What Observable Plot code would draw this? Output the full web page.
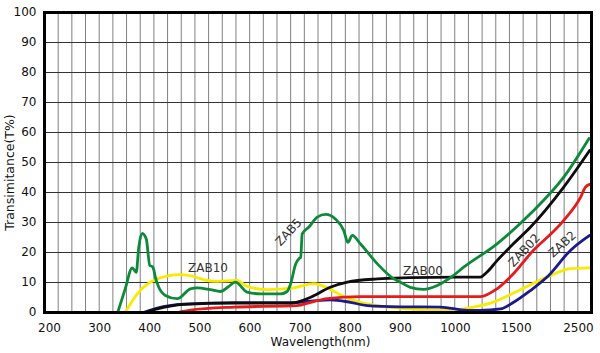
<!DOCTYPE html>
<html><head><meta charset="utf-8">
<script src="https://cdn.jsdelivr.net/npm/d3@7"></script>
<script src="https://cdn.jsdelivr.net/npm/@observablehq/plot@0.6"></script>
<style>
body{margin:0;background:#fff;}
#chart{width:600px;height:353px;}
#chart svg{font-family:"DejaVu Sans",Arial,sans-serif;}
</style>
</head><body><div id="chart"></div>
<script>
// Tick labels
const xTickValues = [200, 300, 400, 500, 600, 700, 800, 900, 1000, 1500, 2500];
const yTickValues = [0, 10, 20, 30, 40, 50, 60, 70, 80, 90, 100];

// ZAB5 (green)
const zab5Wl = [336, 351, 365, 373, 378, 385, 393, 400, 405, 408, 411, 418, 431, 455, 481, 495, 521, 541, 556, 571, 594, 621, 661, 674, 681, 691, 698, 701, 704, 717, 734, 751, 770, 787, 795, 804, 820, 854, 887, 900, 918, 942, 967, 991, 1068, 1342, 1726, 2263, 2670];
const zab5T  = [0, 7.9, 14.9, 13.4, 21.8, 26.4, 24.5, 15.7, 15.3, 14.2, 11.8, 8.4, 5.7, 4.6, 7.9, 8.2, 7.6, 7, 8.5, 10.1, 6.8, 6.2, 6.2, 7, 9.6, 16.2, 18, 18.4, 26.2, 28.4, 31.8, 32.7, 31.2, 27.3, 23.4, 25.7, 22.9, 16.2, 11.2, 10.1, 8.4, 7.7, 9, 11.6, 15.1, 22.9, 32.9, 45.1, 58];

// ZAB10 (yellow)
const zab10Wl = [351, 375, 415, 461, 488, 508, 534, 574, 594, 634, 687, 727, 754, 787, 820, 887, 946, 991, 1123, 1205, 1287, 1478, 1995, 2371, 2670];
const zab10T  = [0, 6.2, 11.2, 12.6, 12, 10.9, 10.4, 10.7, 8.7, 7.6, 8.2, 9.6, 8.2, 5.3, 3.4, 1.6, 0.9, 0.7, 1.6, 2.3, 3.1, 6.5, 11.8, 14.6, 14.9];

// ZAB00 (black)
const zab00Wl = [391, 415, 468, 568, 681, 721, 760, 794, 854, 918, 1000, 1205, 1258, 1342, 1476, 1726, 2263, 2680];
const zab00T  = [0, 1.2, 2.7, 3.1, 3.1, 5.1, 8.4, 10.1, 11.2, 11.6, 11.8, 11.8, 13.4, 17.3, 22.9, 28.4, 41.8, 54];

// ZAB02 (red)
const zab02Wl = [455, 481, 568, 694, 721, 754, 820, 1041, 1205, 1342, 1476, 1726, 2263, 2533, 2613, 2680];
const zab02T  = [0, 0.8, 1.8, 2.3, 3.4, 4.6, 5.3, 5.3, 5.3, 7.9, 12.9, 19.6, 30.7, 38.4, 41.8, 42.7];

// ZAB2 (navy)
const zab2Wl = [387, 415, 468, 568, 681, 721, 760, 800, 834, 900, 973, 1096, 1205, 1369, 1478, 1726, 1995, 2371, 2680];
const zab2T  = [0, 1.5, 2.8, 3.3, 3.3, 3.8, 4.2, 3.4, 2.3, 1.9, 1.8, 0.7, 0.7, 1.2, 3.4, 7.3, 11.8, 20.7, 25.7];

// Curve labels (annotation anchors in data units)
const labelNames = ["ZAB10", "ZAB5", "ZAB00", "ZAB02", "ZAB2"];
const labelWl    = [516, 677, 941, 1629, 2242];
const labelT     = [14.8, 26.7, 13.8, 20.7, 22.7];

// The wavelength axis is piecewise: map wavelength onto 40 equal grid columns
const pos = d3.scaleLinear()
  .domain([190, 900, 1000, 1500, 2710])
  .range([0, 26.03, 30.05, 34.5, 40]);
const nCols = 40;

const toRows = (wl, t) => wl.map((w, i) => ({wl: w, t: t[i]}));
const series = [
  {rows: toRows(zab10Wl, zab10T), color: "#f7ec00"},
  {rows: toRows(zab2Wl, zab2T), color: "#1b1a8c"},
  {rows: toRows(zab02Wl, zab02T), color: "#e61b1b"},
  {rows: toRows(zab00Wl, zab00T), color: "#0d0d0d"},
  {rows: toRows(zab5Wl, zab5T), color: "#0c8a3a"}
];
const labels = labelNames.map((n, i) => ({name: n, wl: labelWl[i], t: labelT[i]}));
const xPos = d => pos(d.wl);

const plot = Plot.plot({
  width: 600,
  height: 353,
  marginLeft: 44,
  marginRight: 9,
  marginTop: 12,
  marginBottom: 41,
  style: {fontFamily: "'DejaVu Sans', Arial, sans-serif", fontSize: "12px", color: "#111", background: "#fff"},
  x: {domain: [0, nCols], ticks: xTickValues.map(v => pos(v)), tickSize: 0, tickPadding: 11,
      tickFormat: d => String(xTickValues.find(v => Math.abs(pos(v) - d) < 1e-6) ?? ""), label: null},
  y: {domain: [0, 100], ticks: yTickValues, tickSize: 0, tickPadding: 8, label: null},
  marks: [
    Plot.ruleX(d3.range(1, nCols), {stroke: "#808080", strokeWidth: 1}),
    Plot.ruleY(yTickValues.slice(1, -1), {stroke: "#333", strokeWidth: 1}),
    ...series.map(s => Plot.line(s.rows, {x: xPos, y: "t", stroke: s.color, strokeWidth: 2.8, curve: "monotone-x"})),
    Plot.text(labels.filter(d => d.name === "ZAB10" || d.name === "ZAB00"), {x: xPos, y: "t", text: "name", fill: "#333", fontSize: 12}),
    Plot.text(labels.filter(d => d.name === "ZAB5" || d.name === "ZAB02"), {x: xPos, y: "t", text: "name", fill: "#333", fontSize: 12, rotate: -47}),
    Plot.text(labels.filter(d => d.name === "ZAB2"), {x: xPos, y: "t", text: "name", fill: "#333", fontSize: 12, rotate: -42}),
    Plot.text(["Wavelength(nm)"], {frameAnchor: "bottom", lineAnchor: "middle", textAnchor: "middle", dy: 30, dx: 2.5, fontSize: 12, fill: "#111"}),
    Plot.text(["Transimitance(T%)"], {frameAnchor: "left", lineAnchor: "middle", textAnchor: "middle", dx: -35, dy: 10, rotate: -90, fontSize: 12.5, fill: "#111"}),
    Plot.frame({stroke: "#000", strokeWidth: 3})
  ]
});
document.getElementById("chart").appendChild(plot);
</script>
</body></html>
